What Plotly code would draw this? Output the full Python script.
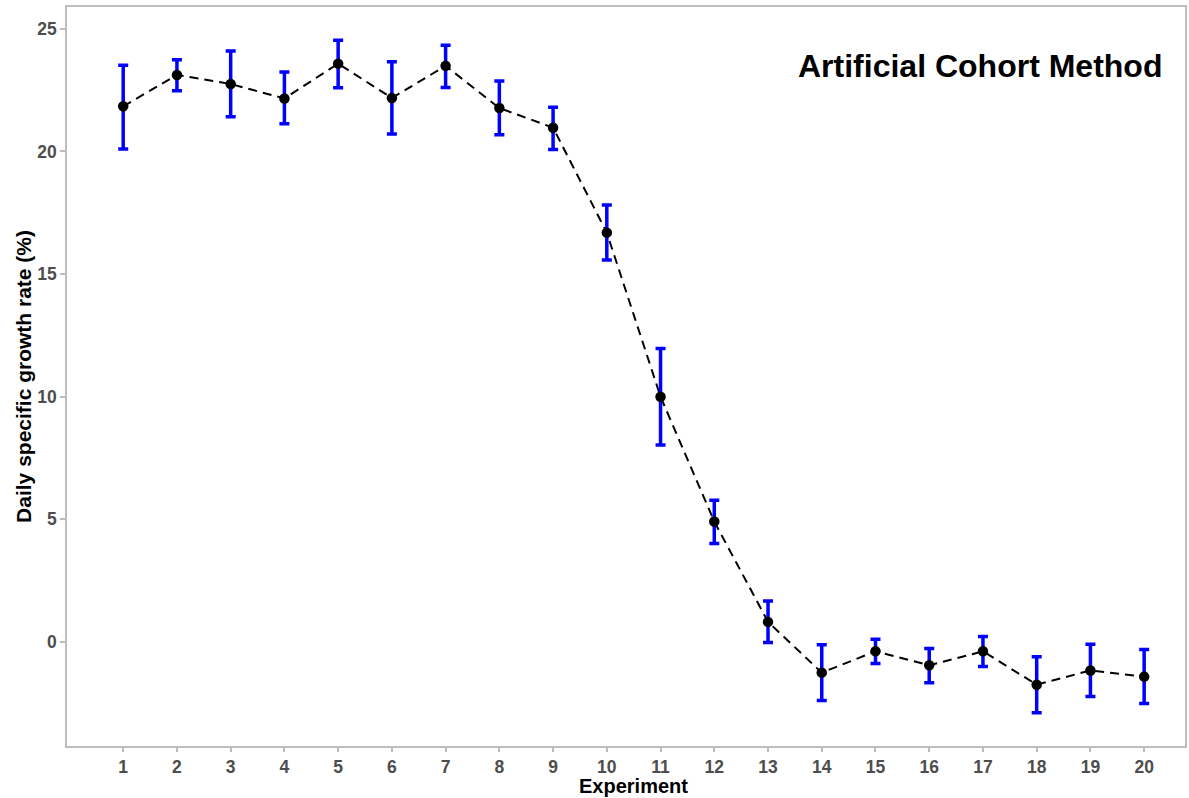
import plotly.graph_objects as go

experiment = list(range(1, 21))
growth = [21.84, 23.12, 22.75, 22.16, 23.58, 22.18, 23.49, 21.77, 20.97, 16.69,
          10.0, 4.91, 0.82, -1.25, -0.38, -0.95, -0.38, -1.74, -1.16, -1.41]
upper = [23.51, 23.74, 24.10, 23.24, 24.53, 23.66, 24.33, 22.87, 21.80, 17.82,
         11.97, 5.78, 1.67, -0.11, 0.11, -0.26, 0.22, -0.60, -0.09, -0.31]
lower = [20.10, 22.48, 21.42, 21.13, 22.60, 20.71, 22.61, 20.68, 20.08, 15.57,
         8.03, 4.02, -0.02, -2.38, -0.88, -1.66, -1.00, -2.88, -2.22, -2.51]
y_ticks = [0, 5, 10, 15, 20, 25]

err_plus = [u - g for u, g in zip(upper, growth)]
err_minus = [g - l for g, l in zip(growth, lower)]

FONT = "Liberation Sans, Arial, sans-serif"
AXIS_GREY = "#BDBDBD"

fig = go.Figure()
fig.add_trace(go.Scatter(
    x=experiment, y=growth, mode="lines",
    line=dict(color="black", width=2, dash="9px,6px"),
    hoverinfo="skip", showlegend=False))
fig.add_trace(go.Scatter(
    x=experiment, y=growth, mode="markers",
    marker=dict(size=1, color="rgba(0,0,0,0)"),
    error_y=dict(type="data", array=err_plus, arrayminus=err_minus,
                 color="#0000FF", thickness=3.5, width=5),
    showlegend=False))
fig.add_trace(go.Scatter(
    x=experiment, y=growth, mode="markers",
    marker=dict(size=10.5, color="black"),
    showlegend=False))

fig.update_layout(
    width=1189, height=798,
    margin=dict(l=67, r=2, t=7, b=52),
    paper_bgcolor="white", plot_bgcolor="white",
    font=dict(family=FONT),
    xaxis=dict(
        range=[-0.046, 20.76], tickmode="array", tickvals=experiment,
        ticktext=[str(v) for v in experiment],
        showgrid=False, zeroline=False,
        showline=True, linecolor=AXIS_GREY, linewidth=1.5, mirror=True,
        ticks="outside", ticklen=4, tickcolor=AXIS_GREY, tickwidth=1.5,
        tickfont=dict(size=17.5, color="#4D4D4D", weight="bold"),
    ),
    yaxis=dict(
        range=[-4.24, 25.89], tickmode="array", tickvals=y_ticks,
        ticktext=[str(v) for v in y_ticks],
        showgrid=False, zeroline=False,
        showline=True, linecolor=AXIS_GREY, linewidth=1.5, mirror=True,
        ticks="outside", ticklen=5, tickcolor=AXIS_GREY, tickwidth=1.5,
        tickfont=dict(size=17.5, color="#4D4D4D", weight="bold"),
    ),
    annotations=[
        dict(text="Artificial Cohort Method", x=16.95, y=23.5, xref="x", yref="y",
             showarrow=False, xanchor="center", yanchor="middle",
             font=dict(size=32, color="black", family=FONT, weight="bold")),
        dict(text="Daily specific growth rate (%)", x=-0.039, y=0.5,
             xref="paper", yref="paper", textangle=-90, showarrow=False,
             xanchor="center", yanchor="middle",
             font=dict(size=21, color="black", family=FONT, weight="bold")),
        dict(text="Experiment", x=(635 - 67) / 1120, y=-0.0704,
             xref="paper", yref="paper", borderpad=0,
             showarrow=False, xanchor="center", yanchor="bottom",
             font=dict(size=20, color="black", family=FONT, weight="bold")),
    ],
)

fig.write_html("out.html")
